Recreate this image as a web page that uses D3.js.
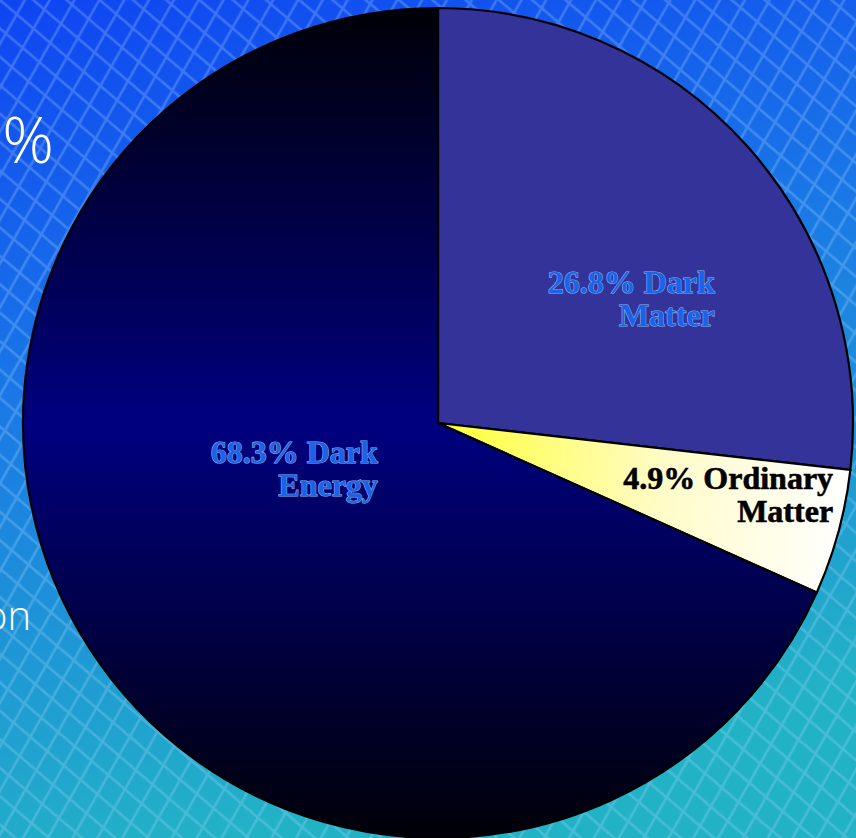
<!DOCTYPE html>
<html lang="en">
<head>
  <meta charset="UTF-8">
  <title>Universe Composition Pie</title>
  <script src="https://d3js.org/d3.v7.min.js"></script>
  <style>
    html, body { margin: 0; padding: 0; overflow: hidden; }
    svg { display: block; }
    .slice-label {
      font-family: "Liberation Serif", "Times New Roman", serif;
      font-weight: bold;
      font-size: 32px;
    }
  </style>
</head>
<body>
  <div id="chart"></div>

  <script>
    // Data
    const categories = ["Dark Matter", "Ordinary Matter", "Dark Energy"];
    const values = [26.8, 4.9, 68.3];
    const labelLines = [
      ["26.8% Dark", "Matter"],
      ["4.9% Ordinary", "Matter"],
      ["68.3% Dark", "Energy"]
    ];
    // text that peeks out from the slide behind the pie
    const backText = ["5%", "on"];

    const width = 856;
    const height = 838;
    const cx = 438, cy = 423;
    const radius = 415;

    const svg = d3.select("#chart")
      .append("svg")
      .attr("width", width)
      .attr("height", height);

    const defs = svg.append("defs");

    // background gradient, blue to teal
    const bg = defs.append("linearGradient")
      .attr("id", "bg").attr("x1", 0).attr("y1", 0).attr("x2", 0.25).attr("y2", 1);
    bg.append("stop").attr("offset", "0%").attr("stop-color", "#0f44f2");
    bg.append("stop").attr("offset", "45%").attr("stop-color", "#1a78e6");
    bg.append("stop").attr("offset", "100%").attr("stop-color", "#22b2c6");

    // mesh pattern (diamond grid)
    const mesh = defs.append("pattern")
      .attr("id", "mesh")
      .attr("patternUnits", "userSpaceOnUse")
      .attr("width", 28).attr("height", 34)
      .attr("patternTransform", "rotate(-10)");
    mesh.append("path")
      .attr("d", "M0,0 L28,34 M28,0 L0,34")
      .attr("stroke", "#a8d6ff")
      .attr("stroke-opacity", 0.28)
      .attr("stroke-width", 2.6)
      .attr("fill", "none");

    svg.append("rect").attr("width", width).attr("height", height).attr("fill", "url(#bg)");
    svg.append("rect").attr("width", width).attr("height", height).attr("fill", "url(#mesh)");

    // slide text behind
    svg.append("text")
      .attr("x", 54).attr("y", 163)
      .attr("text-anchor", "end")
      .style("font-family", "'Open Sans', sans-serif")
      .style("font-weight", 300)
      .style("font-size", "64px")
      .style("fill", "#ffffff")
      .text(backText[0]);
    svg.append("text")
      .attr("x", 31).attr("y", 630)
      .attr("text-anchor", "end")
      .style("font-family", "'Open Sans', sans-serif")
      .style("font-weight", 300)
      .style("font-size", "40px")
      .style("fill", "#ffffff")
      .text(backText[1]);

    // slice gradients
    const gDE = defs.append("linearGradient")
      .attr("id", "gDE").attr("gradientUnits", "userSpaceOnUse")
      .attr("x1", 0).attr("y1", -radius).attr("x2", 0).attr("y2", radius);
    gDE.append("stop").attr("offset", "0%").attr("stop-color", "#000008");
    gDE.append("stop").attr("offset", "50%").attr("stop-color", "#000080");
    gDE.append("stop").attr("offset", "100%").attr("stop-color", "#000008");

    const gOM = defs.append("linearGradient")
      .attr("id", "gOM").attr("gradientUnits", "userSpaceOnUse")
      .attr("x1", 0).attr("y1", 0).attr("x2", radius).attr("y2", 40);
    gOM.append("stop").attr("offset", "0%").attr("stop-color", "#ffff33");
    gOM.append("stop").attr("offset", "55%").attr("stop-color", "#fffcc8");
    gOM.append("stop").attr("offset", "100%").attr("stop-color", "#ffffff");

    const fills = d3.scaleOrdinal()
      .domain(categories)
      .range(["#333399", "url(#gOM)", "url(#gDE)"]);

    const pie = d3.pie().sort(null).value(d => d.value);
    const arc = d3.arc().innerRadius(0).outerRadius(radius);

    const data = categories.map((c, i) => ({ name: c, value: values[i], lines: labelLines[i] }));
    const arcs = pie(data);

    const g = svg.append("g").attr("transform", `translate(${cx},${cy})`);

    g.selectAll("path.slice")
      .data(arcs)
      .enter()
      .append("path")
      .attr("class", "slice")
      .attr("d", arc)
      .attr("fill", d => fills(d.data.name))
      .attr("stroke", "#000")
      .attr("stroke-width", 2.2)
      .attr("stroke-linejoin", "miter");

    // label anchors, right edge of text, in units of radius
    const labelAnchor = [[0.667, -0.313], [0.952, 0.159], [-0.145, 0.096]];
    const labelFill = ["#1c62e6", "#000000", "#1c62e6"];
    const labelStroke = ["#86b8f2", "#000000", "#86b8f2"];
    const labelStrokeW = [1.1, 0.6, 1.1];

    const labels = g.selectAll("text.slice-label")
      .data(arcs)
      .enter()
      .append("text")
      .attr("class", "slice-label")
      .attr("text-anchor", "end")
      .attr("x", (d, i) => labelAnchor[i][0] * radius)
      .attr("y", (d, i) => labelAnchor[i][1] * radius)
      .style("fill", (d, i) => labelFill[i])
      .style("stroke", (d, i) => labelStroke[i])
      .style("stroke-width", (d, i) => labelStrokeW[i])
      .style("paint-order", "stroke");

    labels.selectAll("tspan")
      .data((d, i) => d.data.lines.map(t => ({ t, i })))
      .enter()
      .append("tspan")
      .attr("x", d => labelAnchor[d.i][0] * radius)
      .attr("dy", (d, j) => j === 0 ? 0 : 33)
      .text(d => d.t);
  </script>
</body>
</html>
